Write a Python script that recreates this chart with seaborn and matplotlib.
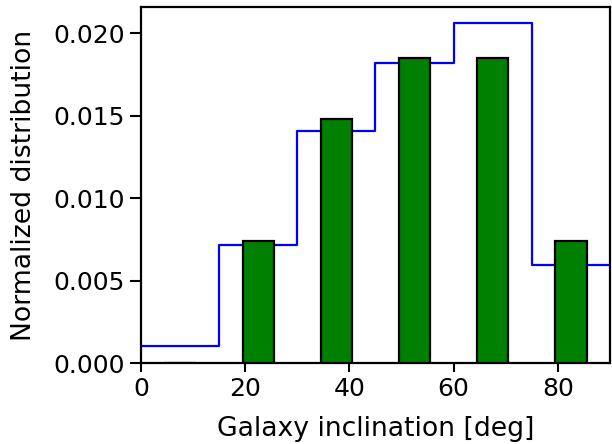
import matplotlib
matplotlib.use("Agg")
import matplotlib.pyplot as plt
import seaborn as sns
import numpy as np

# Data
bin_edges = [0, 15, 30, 45, 60, 75, 90]
bin_centers = [7.5, 22.5, 37.5, 52.5, 67.5, 82.5]
model_density = [0.00103, 0.00715, 0.01406, 0.01818, 0.0206, 0.00594]
observed_density = [0.0, 0.0074, 0.0148, 0.0185, 0.0185, 0.0074]

plt.rcParams.update({
    "font.family": "DejaVu Sans",
    "font.size": 18,
    "axes.linewidth": 1.6,
    "xtick.major.size": 6.5,
    "ytick.major.size": 8,
    "xtick.major.width": 1.5,
    "ytick.major.width": 1.5,
})

fig = plt.figure(figsize=(6.12, 4.44), dpi=100)
ax = fig.add_axes([0.2304, 0.1824, 0.9967 - 0.2304, 0.9842 - 0.1824])

sns.histplot(x=bin_centers, weights=model_density, bins=bin_edges,
             element="step", fill=False, stat="count", color="blue",
             linewidth=1.6, ax=ax)

sns.barplot(x=bin_centers, y=observed_density, native_scale=True, width=0.4,
            color="green", saturation=1, edgecolor="black", linewidth=1.6,
            ax=ax, zorder=3)

ax.set_xlim(0, 90)
ax.set_ylim(0, 0.02158)
ax.set_xticks([0, 20, 40, 60, 80])
ax.set_yticks([0.0, 0.005, 0.010, 0.015, 0.020])
ax.set_yticklabels(["0.000", "0.005", "0.010", "0.015", "0.020"])
ax.set_xlabel("Galaxy inclination [deg]", fontsize=19.2, labelpad=11)
ax.set_ylabel("Normalized distribution", fontsize=19.2, labelpad=12)

fig.savefig("out.png", dpi=100)
